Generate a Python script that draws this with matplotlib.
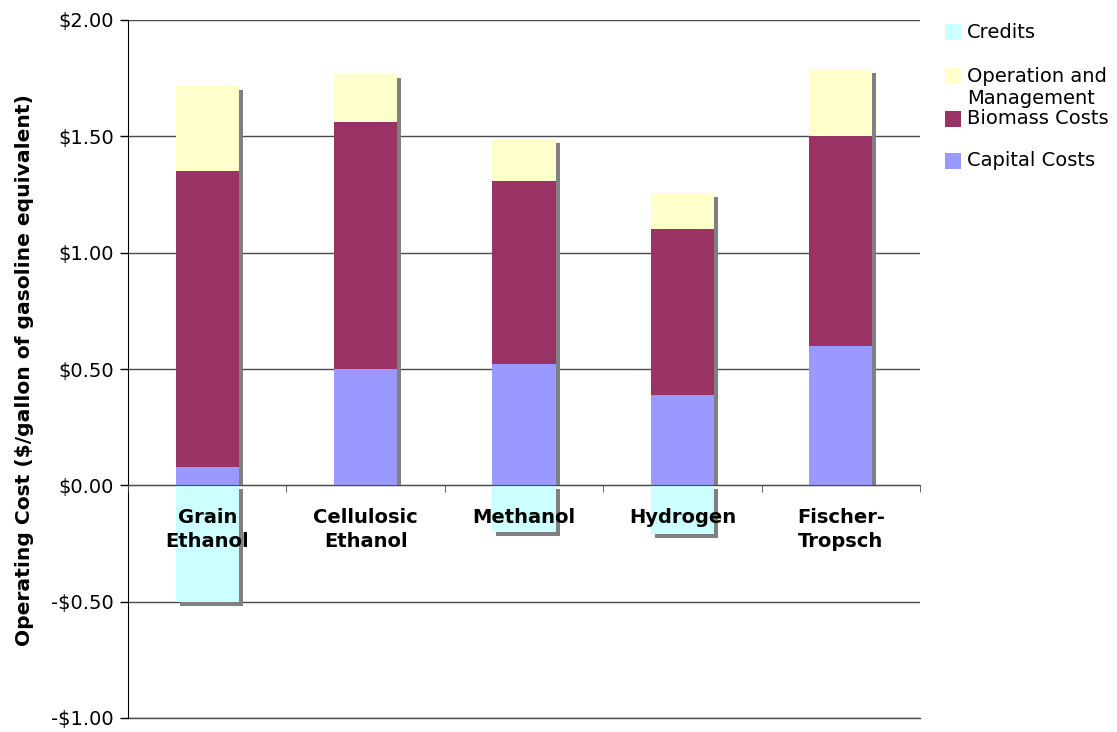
import numpy as np
import matplotlib
matplotlib.use('Agg')
import matplotlib.pyplot as plt
from matplotlib.patches import Rectangle
from matplotlib.transforms import ScaledTranslation, Bbox, TransformedBbox
from matplotlib.ticker import FuncFormatter

# data ($/gallon of gasoline equivalent)
categories = ['Grain\nEthanol', 'Cellulosic\nEthanol', 'Methanol', 'Hydrogen', 'Fischer-\nTropsch']
capital = [0.08, 0.50, 0.52, 0.39, 0.60]
biomass = [1.27, 1.06, 0.79, 0.71, 0.90]
operation = [0.365, 0.21, 0.18, 0.155, 0.29]
credits = [-0.50, 0.0, -0.20, -0.21, 0.0]

col_capital = '#9999ff'
col_biomass = '#993366'
col_operation = '#ffffcc'
col_credits = '#ccffff'
col_shadow = '#808080'
col_line = '#4a4a4a'

plt.rcParams['font.family'] = 'DejaVu Sans'

fig = plt.figure(figsize=(11.17, 7.32), dpi=100)
ax = fig.add_axes([128/1117, 1 - 718/732, 792/1117, 698/732])

x = np.arange(len(categories))
w = 0.40
cap = np.array(capital)
bio = np.array(biomass)
om = np.array(operation)
cr = np.array(credits)
tot = cap + bio + om

#Shadows, shifted right and down by 4 px
shift = ax.transData + ScaledTranslation(0.04, -0.04, fig.dpi_scale_trans)
above = TransformedBbox(Bbox([[-0.5, 0.0], [len(categories) - 0.5, 2.0]]), ax.transData)
for p in ax.bar(x, tot, w, color=col_shadow, zorder=2, lw=0):
    p.set_transform(shift)
    p.set_clip_box(above)
for p in ax.bar(x, cr, w, color=col_shadow, zorder=2, lw=0):
    if p.get_height() != 0:
        p.set_transform(shift)
    else:
        p.set_visible(False)

#Stacked bars
ax.bar(x, cap, w, color=col_capital, zorder=3, lw=0)
ax.bar(x, bio, w, bottom=cap, color=col_biomass, zorder=3, lw=0)
ax.bar(x, om, w, bottom=cap + bio, color=col_operation, zorder=3, lw=0)
ax.bar(x, cr, w, color=col_credits, zorder=3, lw=0)

#Axes
ax.set_xlim(-0.5, len(categories) - 0.5)
ax.set_ylim(-1.0, 2.0)
ax.set_yticks(np.arange(-1.0, 2.01, 0.5))
ax.yaxis.set_major_formatter(FuncFormatter(lambda v, p: ('-$%.2f' % -v) if v < 0 else ('$%.2f' % v)))
ax.grid(axis='y', color=col_line, lw=1, zorder=0)
ax.set_axisbelow(True)
ax.axhline(-1.0, color=col_line, lw=1, clip_on=False, zorder=0)
for s in ('top', 'right'):
    ax.spines[s].set_visible(False)
ax.spines['bottom'].set_position(('data', 0))
ax.spines['bottom'].set_color(col_line)
ax.spines['bottom'].set_zorder(4)
ax.spines['left'].set_color('black')
ax.xaxis.set_zorder(4)
ax.tick_params(axis='y', length=6, width=1, labelsize=14, pad=4)

ax.set_xticks(x)
ax.set_xticklabels(categories, fontsize=14, fontweight='bold', linespacing=1.35)
ax.set_xticks(np.arange(-0.5, len(categories), 1.0), minor=True)
ax.tick_params(axis='x', which='major', length=0, pad=16)
ax.tick_params(axis='x', which='minor', length=5, color=col_line)

fig.text(25/1117, 1 - 370/732, 'Operating Cost ($/gallon of gasoline equivalent)',
         rotation=90, ha='center', va='center', fontsize=14.6, fontweight='bold')

#Legend drawn by hand
leg = [(col_credits, 'Credits', 32),
       (col_operation, 'Operation and', 76),
       (col_biomass, 'Biomass Costs', 119),
       (col_capital, 'Capital Costs', 161)]
for c, lab, yc in leg:
    fig.add_artist(Rectangle((945/1117, 1 - (yc + 8)/732), 16/1117, 16/732,
                             transform=fig.transFigure, color=c, lw=0))
    fig.text(967/1117, 1 - yc/732, lab, ha='left', va='center', fontsize=14)
fig.text(967/1117, 1 - 99/732, 'Management', ha='left', va='center', fontsize=14)

plt.savefig('out.png', dpi=100)
